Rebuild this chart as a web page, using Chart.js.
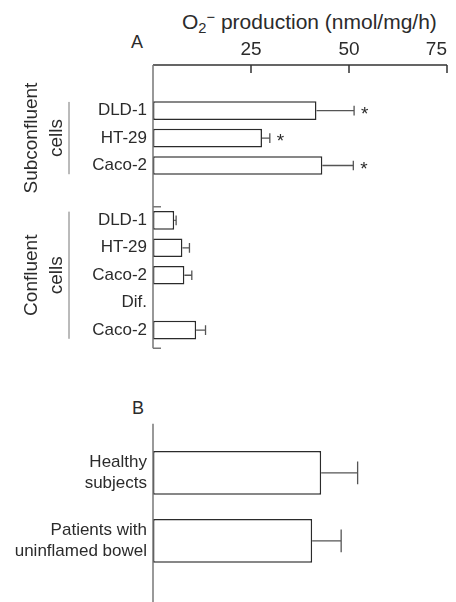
<!DOCTYPE html>
<html>
<head>
<meta charset="utf-8">
<script src="https://cdn.jsdelivr.net/npm/chart.js@4.4.0/dist/chart.umd.min.js"></script>
<style>
  body { margin: 0; width: 456px; height: 602px; overflow: hidden; background: #fff;
         font-family: "Liberation Sans", Arial, sans-serif; color: #2b2b2b; position: relative; }
  canvas { position: absolute; left: 0; }
  #chartA { top: 0; }
  #chartB { top: 380px; }
  .lbl { position: absolute; white-space: nowrap; }
  #title { left: 182px; top: 11px; font-size: 21px; line-height: 21px; }
  #title sub, #title sup { font-size: 0.7em; line-height: 0; position: relative; vertical-align: baseline; }
  #title sub { top: 0.3em; }
  #title sup { top: -0.5em; }
  #panelA { left: 131px; top: 33px; font-size: 18px; line-height: 18px; }
  #panelB { left: 132px; top: 399px; font-size: 18px; line-height: 18px; }
</style>
</head>
<body>
<div class="lbl" id="title">O<sub>2</sub><sup>−</sup> production (nmol/mg/h)</div>
<div class="lbl" id="panelA">A</div>
<div class="lbl" id="panelB">B</div>
<canvas id="chartA" width="456" height="360"></canvas>
<canvas id="chartB" width="456" height="222"></canvas>
<script>
// panel A: superoxide production by cell lines
const labelsA = ['', 'DLD-1', 'HT-29', 'Caco-2', '', 'DLD-1', 'HT-29', 'Caco-2', 'Dif.', 'Caco-2'];
const valuesA = [null, 41.7, 27.8, 43.2, null, 5.4, 7.5, 8.0, null, 11.0];
const errorsA = [null, 9.6, 2.0, 7.9, null, 0.5, 1.8, 1.9, null, 2.4];
const starsA = ['', '*', '*', '*', '', '', '', '', '', ''];
const groupsA = [
    { text: ['Subconfluent', 'cells'], from: 1, to: 3 },
    { text: ['Confluent', 'cells'], from: 5, to: 9 }
];

// panel B: colonocytes from human subjects
const labelsB = [['Healthy', 'subjects'], ['Patients with', 'uninflamed bowel']];
const valuesB = [42.9, 40.6];
const errorsB = [9.3, 7.4];

const xMin = 0, xMax = 75, xStep = 25;

const FONT = '"Liberation Sans", Arial, sans-serif';
const INK = '#2b2b2b';

const errorBars = {
    id: 'errorBars',
    afterDatasetsDraw(chart, args, opts) {
        const ctx = chart.ctx;
        const x = chart.scales.x;
        const meta = chart.getDatasetMeta(0);
        ctx.save();
        ctx.strokeStyle = '#555';
        ctx.lineWidth = 1.3;
        meta.data.forEach((bar, i) => {
            const v = opts.values[i];
            if (v == null) return;
            const x0 = x.getPixelForValue(v);
            const x1 = x.getPixelForValue(v + opts.errors[i]);
            const cap = bar.height * 0.26;
            ctx.beginPath();
            ctx.moveTo(x0, bar.y);
            ctx.lineTo(x1, bar.y);
            ctx.moveTo(x1, bar.y - cap);
            ctx.lineTo(x1, bar.y + cap);
            ctx.stroke();
            if (opts.stars && opts.stars[i]) {
                ctx.fillStyle = INK;
                ctx.font = '19px ' + FONT;
                ctx.textAlign = 'left';
                ctx.textBaseline = 'alphabetic';
                ctx.fillText(opts.stars[i], x1 + 7, bar.y + 9);
            }
        });
        ctx.restore();
    }
};

const frameA = {
    id: 'frameA',
    afterDraw(chart) {
        const { ctx, chartArea: a, scales: { x, y } } = chart;
        const top = a.top - 4.5, bottom = a.bottom + 4.5;
        const slot = y.getPixelForValue(1) - y.getPixelForValue(0);
        ctx.save();
        // top axis with inward ticks
        ctx.strokeStyle = '#333';
        ctx.lineWidth = 1.5;
        ctx.beginPath();
        ctx.moveTo(a.left, top);
        ctx.lineTo(a.right, top);
        x.ticks.forEach(t => {
            if (t.value === xMin) return;
            const px = x.getPixelForValue(t.value);
            ctx.moveTo(px, top);
            ctx.lineTo(px, top + 8);
        });
        ctx.stroke();
        // left axis
        ctx.strokeStyle = '#777';
        ctx.beginPath();
        ctx.moveTo(a.left, top);
        ctx.lineTo(a.left, bottom);
        ctx.moveTo(a.left, bottom);
        ctx.lineTo(a.left + 8, bottom);
        groupsA.forEach((g, k) => {
            const y0 = y.getPixelForValue(g.from) - slot / 2;
            if (k > 0) {
                ctx.moveTo(a.left, y0);
                ctx.lineTo(a.left + 8, y0);
            }
        });
        ctx.stroke();
        // group brackets and labels
        ctx.lineWidth = 1;
        ctx.fillStyle = INK;
        ctx.font = '19px ' + FONT;
        ctx.textAlign = 'center';
        ctx.textBaseline = 'alphabetic';
        groupsA.forEach(g => {
            const y0 = y.getPixelForValue(g.from) - slot / 2;
            const y1 = y.getPixelForValue(g.to) + slot / 2;
            ctx.beginPath();
            ctx.moveTo(a.left - 84, y0 + 5);
            ctx.lineTo(a.left - 84, y1 - 5);
            ctx.stroke();
            const mid = (y0 + y1) / 2;
            g.text.forEach((line, j) => {
                ctx.save();
                ctx.translate(a.left - 116 + j * 24.5, mid);
                ctx.rotate(-Math.PI / 2);
                ctx.fillText(line, 0, 0);
                ctx.restore();
            });
        });
        ctx.restore();
    }
};

const frameB = {
    id: 'frameB',
    afterDraw(chart) {
        const { ctx, chartArea: a } = chart;
        ctx.save();
        ctx.strokeStyle = '#777';
        ctx.lineWidth = 1.5;
        ctx.beginPath();
        ctx.moveTo(a.left, a.top - 15);
        ctx.lineTo(a.left, chart.height);
        ctx.stroke();
        ctx.restore();
    }
};

function barDataset(values, pct) {
    return {
        data: values,
        backgroundColor: '#fff',
        borderColor: INK,
        borderWidth: 1.5,
        borderSkipped: false,
        barPercentage: pct,
        categoryPercentage: 1
    };
}

new Chart(document.getElementById('chartA'), {
    type: 'bar',
    data: { labels: labelsA, datasets: [barDataset(valuesA, 0.68)] },
    options: {
        indexAxis: 'y',
        responsive: false,
        animation: false,
        layout: { padding: { right: 9, bottom: 11.5 } },
        plugins: {
            legend: { display: false },
            tooltip: { enabled: false },
            errorBars: { values: valuesA, errors: errorsA, stars: starsA }
        },
        scales: {
            x: {
                position: 'top',
                min: xMin,
                max: xMax,
                grid: { display: false, drawTicks: false },
                border: { display: false },
                ticks: {
                    stepSize: xStep,
                    align: 'inner',
                    padding: 8,
                    color: INK,
                    font: { family: FONT, size: 19 },
                    callback: v => v === xMin ? '' : v
                },
                afterFit: s => { s.height = 69.5; }
            },
            y: {
                grid: { display: false, drawTicks: false },
                border: { display: false },
                ticks: { padding: 6, color: INK, autoSkip: false, font: { family: FONT, size: 17 } },
                afterFit: s => { s.width = 153; }
            }
        }
    },
    plugins: [errorBars, frameA]
});

new Chart(document.getElementById('chartB'), {
    type: 'bar',
    data: { labels: labelsB, datasets: [barDataset(valuesB, 0.645)] },
    options: {
        indexAxis: 'y',
        responsive: false,
        animation: false,
        layout: { padding: { top: 58.85, right: 9, bottom: 11.4 } },
        plugins: {
            legend: { display: false },
            tooltip: { enabled: false },
            errorBars: { values: valuesB, errors: errorsB }
        },
        scales: {
            x: { display: false, min: xMin, max: xMax },
            y: {
                grid: { display: false, drawTicks: false },
                border: { display: false },
                ticks: { padding: 6, color: INK, font: { family: FONT, size: 17, lineHeight: 1.24 } },
                afterFit: s => { s.width = 153; }
            }
        }
    },
    plugins: [errorBars, frameB]
});
</script>
</body>
</html>
